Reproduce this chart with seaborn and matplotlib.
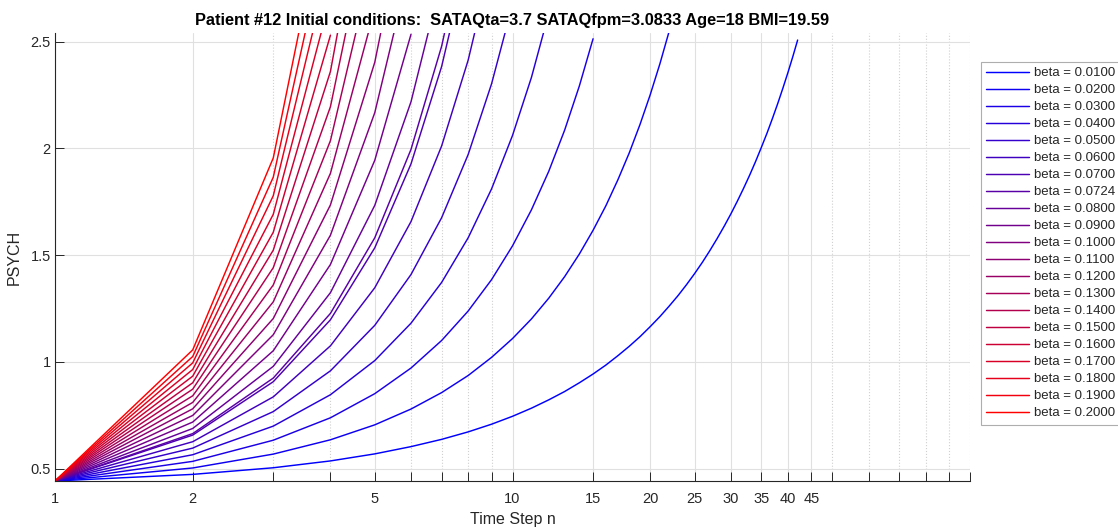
import matplotlib
matplotlib.use("Agg")
import matplotlib.pyplot as plt
import seaborn as sns
import pandas as pd
from matplotlib.ticker import FixedLocator, FixedFormatter, NullFormatter

# ---------------- data (PSYCH value at time steps n = 1, 2, 3, ...) ----------------
betas = [0.01, 0.02, 0.03, 0.04, 0.05, 0.06, 0.07, 0.0724, 0.08, 0.09, 0.10,
         0.11, 0.12, 0.13, 0.14, 0.15, 0.16, 0.17, 0.18, 0.19, 0.20]

psych_0100 = [0.442, 0.473, 0.504, 0.536, 0.569, 0.603, 0.637, 0.672, 0.708, 0.745,
              0.783, 0.822, 0.861, 0.902, 0.943, 0.985, 1.029, 1.073, 1.118, 1.165,
              1.212, 1.261, 1.310, 1.361, 1.413, 1.466, 1.521, 1.577, 1.634, 1.692,
              1.752, 1.813, 1.875, 1.939, 2.005, 2.071, 2.140, 2.210, 2.282, 2.355,
              2.430, 2.507]
psych_0200 = [0.442, 0.503, 0.568, 0.635, 0.705, 0.779, 0.856, 0.936, 1.021, 1.109,
              1.201, 1.298, 1.399, 1.505, 1.616, 1.731, 1.853, 1.979, 2.112, 2.251,
              2.396, 2.548]
psych_0300 = [0.442, 0.534, 0.633, 0.738, 0.851, 0.971, 1.100, 1.238, 1.385, 1.543,
              1.712, 1.892, 2.085, 2.292, 2.513]
psych_0400 = [0.442, 0.565, 0.699, 0.846, 1.006, 1.181, 1.372, 1.581, 1.810, 2.060,
              2.332, 2.631]
psych_0500 = [0.442, 0.596, 0.767, 0.958, 1.171, 1.409, 1.675, 1.971, 2.302, 2.672]
psych_0600 = [0.442, 0.626, 0.836, 1.075, 1.347, 1.657, 2.011, 2.413, 2.872]
psych_0700 = [0.442, 0.657, 0.907, 1.197, 1.534, 1.927, 2.383, 2.913]
psych_0724 = [0.442, 0.664, 0.924, 1.227, 1.581, 1.995, 2.478, 3.042]
psych_0800 = [0.442, 0.688, 0.979, 1.324, 1.733, 2.218, 2.793]
psych_0900 = [0.442, 0.718, 1.052, 1.456, 1.944, 2.534]
psych_1000 = [0.442, 0.749, 1.127, 1.593, 2.167, 2.874]
psych_1100 = [0.442, 0.780, 1.203, 1.735, 2.403, 3.241]
psych_1200 = [0.442, 0.810, 1.281, 1.883, 2.653]
psych_1300 = [0.442, 0.841, 1.360, 2.036, 2.916]
psych_1400 = [0.442, 0.872, 1.441, 2.195, 3.194]
psych_1500 = [0.442, 0.902, 1.523, 2.360, 3.487]
psych_1600 = [0.442, 0.933, 1.607, 2.530]
psych_1700 = [0.442, 0.964, 1.691, 2.706]
psych_1800 = [0.442, 0.995, 1.778, 2.888]
psych_1900 = [0.442, 1.025, 1.865, 3.076]
psych_2000 = [0.442, 1.056, 1.955, 3.270]

series = [psych_0100, psych_0200, psych_0300, psych_0400, psych_0500, psych_0600,
          psych_0700, psych_0724, psych_0800, psych_0900, psych_1000, psych_1100,
          psych_1200, psych_1300, psych_1400, psych_1500, psych_1600, psych_1700,
          psych_1800, psych_1900, psych_2000]

x_ticks = [1, 2, 5, 10, 15, 20, 25, 30, 35, 40, 45]
x_tick_labels = ["1", "2", "5", "10", "15", "20", "25", "30", "35", "40", "45"]
x_minor = [3, 4, 6, 7, 8, 9, 50, 60, 70, 80, 90, 100]
y_ticks = [0.5, 1, 1.5, 2, 2.5]
y_tick_labels = ["0.5", "1", "1.5", "2", "2.5"]

title = "Patient #12 Initial conditions:  SATAQta=3.7 SATAQfpm=3.0833 Age=18 BMI=19.59"

# ---------------- build long table ----------------
rows = []
labels = []
for b, vals in zip(betas, series):
    lab = f"beta = {b:.4f}"
    labels.append(lab)
    for i, v in enumerate(vals):
        rows.append({"n": i + 1, "PSYCH": v, "beta": lab})
df = pd.DataFrame(rows)

nser = len(betas)
palette = {lab: (i / (nser - 1), 0.0, 1.0 - i / (nser - 1)) for i, lab in enumerate(labels)}

# ---------------- plot ----------------
sns.set_style("white")
plt.rcParams["font.family"] = ["Liberation Sans", "DejaVu Sans"]

W, H = 1118, 529
fig = plt.figure(figsize=(W / 100, H / 100), dpi=100)
ax = fig.add_axes([55 / W, 1 - 481 / H, (970 - 55) / W, (481 - 33) / H])

sns.lineplot(data=df, x="n", y="PSYCH", hue="beta", hue_order=labels,
             palette=palette, estimator=None, sort=False, linewidth=1.05,
             ax=ax, legend=True)

ax.set_xscale("log")
ax.set_xlim(1, 100)
ax.set_ylim(0.442, 2.54)

ax.xaxis.set_major_locator(FixedLocator(x_ticks))
ax.xaxis.set_major_formatter(FixedFormatter(x_tick_labels))
ax.xaxis.set_minor_locator(FixedLocator(x_minor))
ax.xaxis.set_minor_formatter(NullFormatter())
ax.yaxis.set_major_locator(FixedLocator(y_ticks))
ax.yaxis.set_major_formatter(FixedFormatter(y_tick_labels))

axcol = "#262626"
ax.tick_params(axis="both", which="both", direction="in", length=6.5, width=0.7,
               colors=axcol, labelsize=10.5, bottom=True, left=True,
               top=False, right=False)
ax.tick_params(axis="x", which="major", pad=8)
ax.tick_params(axis="y", which="major", pad=3)

ax.grid(True, which="major", color="#e0e0e0", linewidth=0.8, linestyle="-")
ax.grid(True, which="minor", axis="x", color="#d0d0d0", linewidth=0.8, linestyle=":")
ax.set_axisbelow(True)

for s in ["top", "right"]:
    ax.spines[s].set_visible(False)
for s in ["left", "bottom"]:
    ax.spines[s].set_color(axcol)
    ax.spines[s].set_linewidth(0.8)

ax.set_xlabel("Time Step n", fontsize=11.5, color=axcol, labelpad=4.5)
ax.set_ylabel("PSYCH", fontsize=11.5, color=axcol, labelpad=6)
ax.set_title(title, fontsize=11.8, fontweight="bold", color="black", pad=6)

handles, labs = ax.get_legend_handles_labels()
ax.get_legend().remove()
leg = ax.legend(handles, labs, loc="upper left",
                bbox_to_anchor=(981 / W, 1 - 62 / H), bbox_transform=fig.transFigure,
                borderaxespad=0, frameon=True, fancybox=False, fontsize=9.5,
                handlelength=3.25, handletextpad=0.4, labelspacing=0.362,
                borderpad=0.38)
leg.get_frame().set_edgecolor("#9a9a9a")
leg.get_frame().set_linewidth(0.8)
for t in leg.get_texts():
    t.set_color(axcol)
for h in leg.get_lines():
    h.set_linewidth(1.05)

fig.savefig("out.png", dpi=100)
